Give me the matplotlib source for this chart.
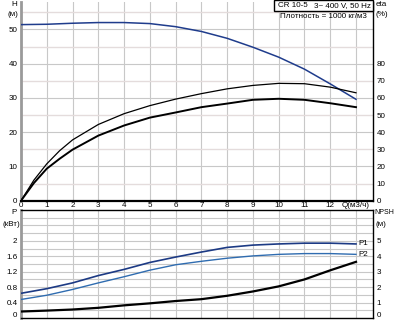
import matplotlib
matplotlib.use("Agg")
import matplotlib.pyplot as plt
from matplotlib.patches import Rectangle

plt.rcParams['font.family'] = ['Liberation Sans', 'DejaVu Sans']

# data
q = [0, 1, 2, 3, 4, 5, 6, 7, 8, 9, 10, 11, 12, 13]
head = [51.4, 51.5, 51.8, 52.0, 52.0, 51.7, 50.8, 49.4, 47.4, 44.8, 41.9, 38.4, 34.1, 29.6]

q_eta = [0, 0.5, 1, 1.5, 2, 3, 4, 5, 6, 7, 8, 9, 10, 11, 12, 13]
eta_upper = [0, 12.0, 21.5, 29.2, 35.5, 44.5, 50.8, 55.5, 59.3, 62.5, 65.3, 67.3, 68.5, 68.3, 66.3, 63.0]
eta_lower = [0, 10.3, 18.7, 24.5, 29.8, 38.0, 43.9, 48.5, 51.5, 54.6, 56.7, 58.9, 59.5, 58.9, 56.9, 54.6]

p1 = [0.64, 0.76, 0.91, 1.10, 1.26, 1.44, 1.58, 1.71, 1.83, 1.89, 1.92, 1.94, 1.94, 1.92]
p2 = [0.48, 0.59, 0.74, 0.91, 1.07, 1.24, 1.38, 1.47, 1.55, 1.61, 1.65, 1.67, 1.67, 1.65]
npsh = [0.42, 0.48, 0.55, 0.66, 0.82, 0.95, 1.10, 1.22, 1.44, 1.72, 2.05, 2.50, 3.09, 3.64]

x_ticks = list(range(14))
x_labels = [str(i) for i in range(13)] + ['Q(м3/ч)']
p_ticks = [0.4, 0.8, 1.2, 1.6, 2]
npsh_ticks = [1, 2, 3, 4, 5]

W, H = 395, 320
FS = 5.8
COL_H = '#1f3c8c'
COL_P1 = '#1c3a84'
COL_P2 = '#2f6cb0'
GRID = '#c8c8c8'
GRID_MINOR = '#e4dcdc'


def fx(px):
    return px / W


def fy(py):
    return 1 - py / H


fig = plt.figure(figsize=(W / 100, H / 100), dpi=100)

##
# top panel: head + efficiency
##
ax1 = fig.add_axes([fx(21), fy(200.7), fx(373) - fx(21), fy(2) - fy(200.7)])
ax1r = ax1.twinx()

ax1.set_xlim(0, 13.66)
ax1.set_ylim(0, 58)
ax1r.set_ylim(0, 116)

ax1.set_xticks(x_ticks)
ax1.set_xticklabels(x_labels)
ax1.set_yticks(range(0, 51, 10))
ax1.set_yticks(range(5, 56, 10), minor=True)
ax1r.set_yticks(range(0, 81, 10))

ax1.grid(True, which='major', color=GRID, lw=0.8, zorder=0)
ax1.grid(True, which='minor', axis='y', color=GRID_MINOR, lw=1.0, zorder=0)
ax1.tick_params(which='both', length=0, labelsize=FS, pad=2.5)
ax1.tick_params(axis='x', pad=1.2)
ax1r.tick_params(length=0, labelsize=FS, pad=2.5)
ax1.set_axisbelow(True)

ax1.plot(q, head, color=COL_H, lw=1.1, zorder=3)
ax1r.plot(q_eta, eta_upper, color='black', lw=0.9, zorder=3)
ax1r.plot(q_eta, eta_lower, color='black', lw=1.4, zorder=3)

for a in (ax1, ax1r):
    for s in a.spines.values():
        s.set_visible(False)
ax1.spines['left'].set_visible(True)
ax1.spines['left'].set_color('#9a9a9a')
ax1.spines['left'].set_linewidth(2)
ax1.spines['bottom'].set_visible(True)
ax1.spines['bottom'].set_linewidth(1.6)
ax1r.spines['right'].set_visible(True)
ax1r.spines['right'].set_linewidth(1)

##
# bottom panel: power + NPSH
##
ax2 = fig.add_axes([fx(21), fy(318), fx(373) - fx(21), fy(210) - fy(318)])
ax2r = ax2.twinx()

ax2.set_xlim(0, 13.66)
ax2.set_ylim(0, 2.8)
ax2r.set_ylim(0, 7)

ax2.set_xticks(x_ticks)
ax2.set_xticklabels([])
ax2.set_yticks(p_ticks)
ax2.set_yticklabels([f'{v:g}' for v in p_ticks])
ax2.set_yticks([0.2, 0.6, 1.0, 1.4, 1.8, 2.2, 2.4, 2.6], minor=True)
ax2r.set_yticks(npsh_ticks)

ax2.grid(True, which='both', color=GRID, lw=0.8, zorder=0)
ax2.tick_params(which='both', length=0, labelsize=FS, pad=2.5)
ax2r.tick_params(length=0, labelsize=FS, pad=2.5)
ax2.set_axisbelow(True)

# zero labels sit a touch above the bottom edge so they are not clipped
fig.text(fx(17.5), fy(315.5), '0', fontsize=FS, ha='right', va='center')
fig.text(fx(376.5), fy(315.5), '0', fontsize=FS, ha='left', va='center')

ax2.plot(q, p1, color=COL_P1, lw=1.2, zorder=3)
ax2.plot(q, p2, color=COL_P2, lw=1.0, zorder=3)
ax2r.plot(q, npsh, color='black', lw=1.6, zorder=3)

ax2.text(13.1, p1[-1], 'P1', fontsize=FS, va='center', ha='left')
ax2.text(13.1, p2[-1], 'P2', fontsize=FS, va='center', ha='left')

for a in (ax2, ax2r):
    for s in a.spines.values():
        s.set_visible(False)
ax2.spines['left'].set_visible(True)
ax2.spines['left'].set_color('#9a9a9a')
ax2.spines['left'].set_linewidth(2)
ax2.spines['top'].set_visible(True)
ax2.spines['top'].set_linewidth(1)
ax2.spines['bottom'].set_visible(True)
ax2.spines['bottom'].set_linewidth(1)
ax2r.spines['right'].set_visible(True)
ax2r.spines['right'].set_linewidth(1)

##
# axis captions and header
##
fig.text(fx(14), fy(5), 'H', fontsize=FS, ha='center', va='center')
fig.text(fx(13), fy(14), '(м)', fontsize=FS, ha='center', va='center')
fig.text(fx(376), fy(5), 'eta', fontsize=FS, ha='left', va='center')
fig.text(fx(376), fy(14), '(%)', fontsize=FS, ha='left', va='center')
fig.text(fx(14), fy(213), 'P', fontsize=FS, ha='center', va='center')
fig.text(fx(11), fy(224), '(кВт)', fontsize=FS, ha='center', va='center')
fig.text(fx(374.5), fy(213), 'NPSH', fontsize=5.0, ha='left', va='center')
fig.text(fx(376), fy(224), '(м)', fontsize=FS, ha='left', va='center')

fig.patches.append(Rectangle((fx(274), fy(11)), fx(373) - fx(274), fy(0) - fy(11),
                             transform=fig.transFigure, fill=True, facecolor='white',
                             edgecolor='black', lw=1, zorder=5))
fig.text(fx(293), fy(5.5), 'CR 10-5', fontsize=FS, ha='center', va='center', zorder=6)
fig.text(fx(342), fy(5.5), '3~ 400 V, 50 Hz', fontsize=FS, ha='center', va='center', zorder=6)
fig.text(fx(367), fy(16), 'Плотность = 1000 кг/м3', fontsize=FS, ha='right', va='center')

fig.savefig('out.png', dpi=100, facecolor='white')
